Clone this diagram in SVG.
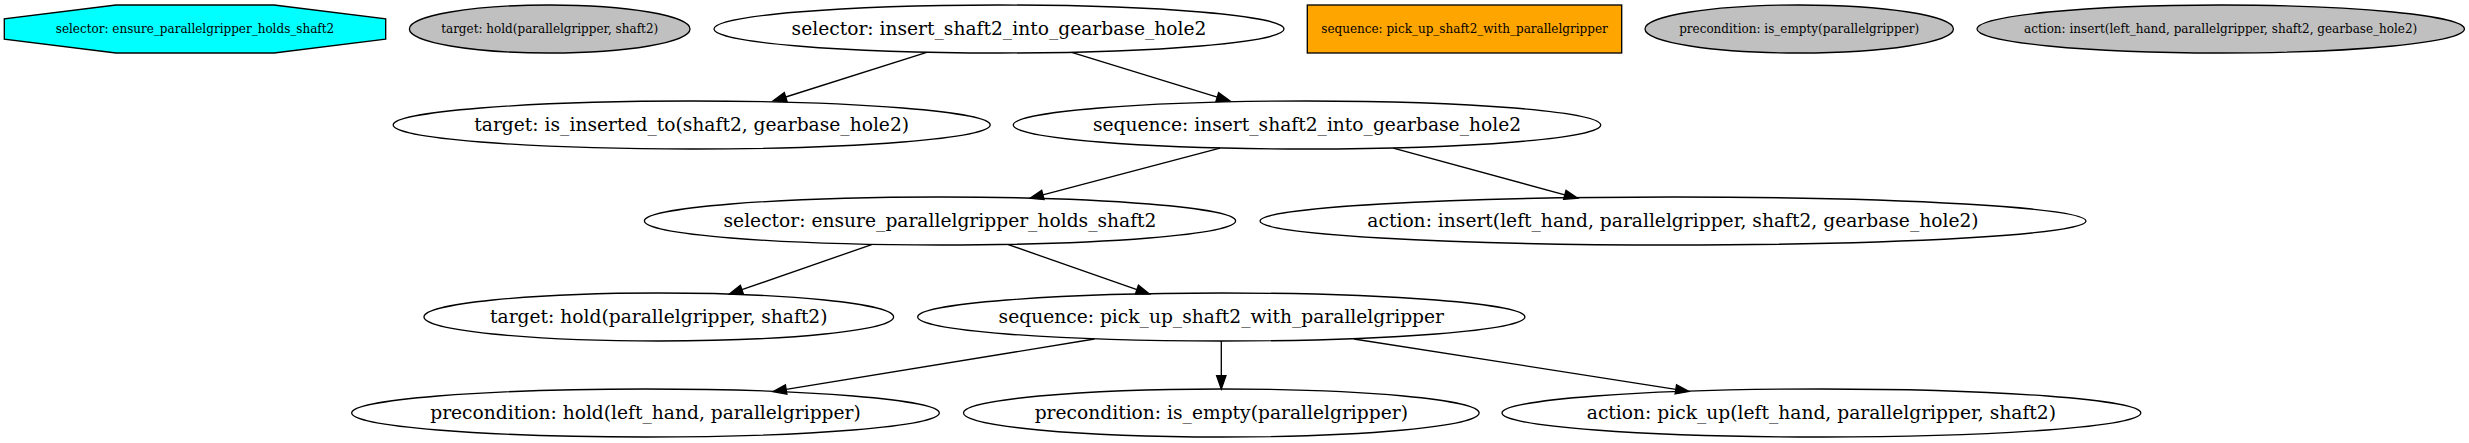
<svg xmlns="http://www.w3.org/2000/svg" width="2469" height="443" viewBox="0 0 2469 443">
<style>
  .shape { stroke: #000000; stroke-width: 1.33; }
  .white { fill: #ffffff; }
  .gray { fill: #c0c0c0; }
  .cyan { fill: #00ffff; }
  .orange { fill: #ffa500; }
  .big { font-family: "DejaVu Serif", "Liberation Serif", serif; font-size: 18.67px; text-anchor: middle; fill: #000000; }
  .small { font-family: "DejaVu Serif", "Liberation Serif", serif; font-size: 12px; text-anchor: middle; fill: #000000; }
  .edge line { stroke: #000000; stroke-width: 1.33; fill: none; }
  .edge polygon { fill: #000000; stroke: #000000; stroke-width: 1.33; }
</style>
<rect x="0" y="0" width="2469" height="443" fill="#ffffff"/>

<!-- legend row -->
<g id="legend_selector">
  <polygon class="shape cyan" points="385.7,39.2 274,53 116,53 4.3,39.2 4.3,18.8 116,5 274,5 385.7,18.8"/>
  <text class="small" x="195" y="32.8">selector: ensure_parallelgripper_holds_shaft2</text>
</g>
<g id="legend_target">
  <ellipse class="shape gray" cx="549.7" cy="29" rx="140.3" ry="24"/>
  <text class="small" x="549.7" y="32.8">target: hold(parallelgripper, shaft2)</text>
</g>
<g id="node_selector_insert">
  <ellipse class="shape white" cx="999" cy="29" rx="285" ry="24"/>
  <text class="big" x="999" y="34.6">selector: insert_shaft2_into_gearbase_hole2</text>
</g>
<g id="legend_sequence">
  <rect class="shape orange" x="1307.3" y="5" width="314.4" height="48"/>
  <text class="small" x="1464.5" y="32.8">sequence: pick_up_shaft2_with_parallelgripper</text>
</g>
<g id="legend_precondition">
  <ellipse class="shape gray" cx="1799.2" cy="29" rx="154.2" ry="24"/>
  <text class="small" x="1799.2" y="32.8">precondition: is_empty(parallelgripper)</text>
</g>
<g id="legend_action">
  <ellipse class="shape gray" cx="2220.7" cy="29" rx="243.7" ry="24"/>
  <text class="small" x="2220.7" y="32.8">action: insert(left_hand, parallelgripper, shaft2, gearbase_hole2)</text>
</g>

<!-- rank 1 -->
<g id="node_target_inserted">
  <ellipse class="shape white" cx="691.7" cy="125" rx="298.5" ry="24"/>
  <text class="big" x="691.7" y="130.6">target: is_inserted_to(shaft2, gearbase_hole2)</text>
</g>
<g id="node_sequence_insert">
  <ellipse class="shape white" cx="1307" cy="125" rx="293.7" ry="24"/>
  <text class="big" x="1307" y="130.6">sequence: insert_shaft2_into_gearbase_hole2</text>
</g>

<!-- rank 2 -->
<g id="node_selector_ensure">
  <ellipse class="shape white" cx="940" cy="221" rx="295.6" ry="24"/>
  <text class="big" x="940" y="226.6">selector: ensure_parallelgripper_holds_shaft2</text>
</g>
<g id="node_action_insert">
  <ellipse class="shape white" cx="1673" cy="221" rx="413" ry="24"/>
  <text class="big" x="1673" y="226.6">action: insert(left_hand, parallelgripper, shaft2, gearbase_hole2)</text>
</g>

<!-- rank 3 -->
<g id="node_target_hold">
  <ellipse class="shape white" cx="658.8" cy="317" rx="234.8" ry="24"/>
  <text class="big" x="658.8" y="322.6">target: hold(parallelgripper, shaft2)</text>
</g>
<g id="node_sequence_pickup">
  <ellipse class="shape white" cx="1221.3" cy="317" rx="303.6" ry="24"/>
  <text class="big" x="1221.3" y="322.6">sequence: pick_up_shaft2_with_parallelgripper</text>
</g>

<!-- rank 4 -->
<g id="node_precondition_hold">
  <ellipse class="shape white" cx="645.5" cy="413" rx="293.8" ry="24"/>
  <text class="big" x="645.5" y="418.6">precondition: hold(left_hand, parallelgripper)</text>
</g>
<g id="node_precondition_empty">
  <ellipse class="shape white" cx="1221.3" cy="413" rx="257.8" ry="24"/>
  <text class="big" x="1221.3" y="418.6">precondition: is_empty(parallelgripper)</text>
</g>
<g id="node_action_pickup">
  <ellipse class="shape white" cx="1821.4" cy="413" rx="319.4" ry="24"/>
  <text class="big" x="1821.4" y="418.6">action: pick_up(left_hand, parallelgripper, shaft2)</text>
</g>

<!-- connectors -->
<g id="connectors" class="edge">
  <line x1="926.7" y1="52.4" x2="785.72" y2="97"/>
  <polygon points="784.32,92.55 773,101 787.12,101.45"/>

  <line x1="1071.7" y1="52.4" x2="1217.25" y2="97.11"/>
  <polygon points="1215.89,101.58 1230,101 1218.61,92.64"/>

  <line x1="1220" y1="148.2" x2="1042.9" y2="194.92"/>
  <polygon points="1041.72,190.4 1030,198.3 1044.08,199.44"/>

  <line x1="1393.3" y1="148.2" x2="1564.83" y2="194.81"/>
  <polygon points="1563.61,199.32 1577.7,198.3 1566.05,190.3"/>

  <line x1="871.7" y1="244.6" x2="741.9" y2="289.66"/>
  <polygon points="740.38,285.24 729.3,294 743.42,294.08"/>

  <line x1="1008.3" y1="244.6" x2="1136.91" y2="289.63"/>
  <polygon points="1135.38,294.04 1149.5,294 1138.44,285.22"/>

  <line x1="1094.4" y1="339" x2="786.16" y2="389.46"/>
  <polygon points="785.41,384.85 773,391.6 786.91,394.07"/>

  <line x1="1221.3" y1="341" x2="1221.3" y2="375.67"/>
  <polygon points="1216.63,375.67 1221.3,389 1225.97,375.67"/>

  <line x1="1353.9" y1="339" x2="1675.83" y2="389.35"/>
  <polygon points="1675.11,393.97 1689,391.4 1676.55,384.74"/>
</g>
</svg>
